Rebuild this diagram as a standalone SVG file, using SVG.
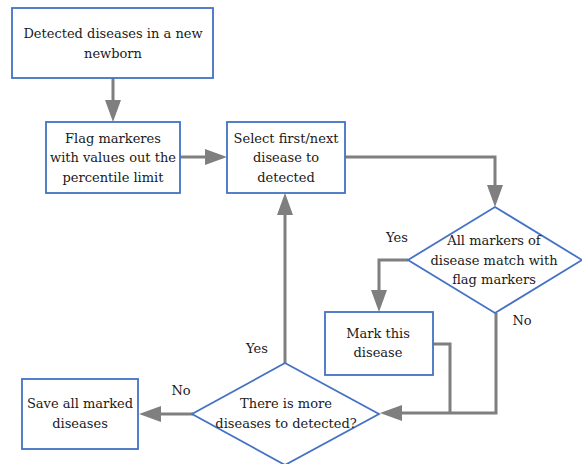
<svg xmlns="http://www.w3.org/2000/svg" width="582" height="464" viewBox="0 0 582 464">
<style>
.box{fill:#fff;stroke:#4472C4;stroke-width:1.8}
.c{fill:none;stroke:#7f7f7f;stroke-width:3}
</style>
<defs>
<marker id="ah" markerUnits="userSpaceOnUse" markerWidth="30" markerHeight="20" refX="0" refY="8" orient="auto" overflow="visible">
<path d="M0,0 L22,8 L0,16 z" fill="#7f7f7f"/>
</marker>
</defs>
<rect width="582" height="464" fill="#fff"/>
<g font-family="DejaVu Serif, serif" font-size="13" fill="#1a1a1a" text-anchor="middle">
<g id="connectors">
<path class="c" d="M113,78 V100" marker-end="url(#ah)"/>
<path class="c" d="M180,157 H205" marker-end="url(#ah)"/>
<path class="c" d="M345,157 H495 V185" marker-end="url(#ah)"/>
<path class="c" d="M408,260 H379 V290" marker-end="url(#ah)"/>
<path class="c" d="M433,344 H450 V413"/>
<path class="c" d="M496,313 V413 H402" marker-end="url(#ah)"/>
<path class="c" d="M285,363 V215" marker-end="url(#ah)"/>
<path class="c" d="M193,414 H161" marker-end="url(#ah)"/>
<text x="397" y="242">Yes</text>
<text x="522" y="325">No</text>
<text x="257" y="353">Yes</text>
<text x="181" y="395">No</text>
</g>
<g id="n1">
<rect class="box" x="12" y="8" width="201" height="70"/>
<text x="113" y="38">Detected diseases in a new</text>
<text x="113" y="58">newborn</text>
</g>
<g id="n2">
<rect class="box" x="46" y="122" width="134" height="71"/>
<text x="113" y="143">Flag markeres</text>
<text x="113" y="162">with values out the</text>
<text x="113" y="182">percentile limit</text>
</g>
<g id="n3">
<rect class="box" x="227" y="122" width="118" height="71"/>
<text x="286" y="143">Select first/next</text>
<text x="286" y="162">disease to</text>
<text x="286" y="182">detected</text>
</g>
<g id="n4">
<polygon class="box" points="495,207 582,260 495,313 408,260"/>
<text x="494" y="245">All markers of</text>
<text x="494" y="265">disease match with</text>
<text x="494" y="284">flag markers</text>
</g>
<g id="n5">
<rect class="box" x="325" y="312" width="108" height="63"/>
<text x="378" y="338">Mark this</text>
<text x="378" y="357">disease</text>
</g>
<g id="n6">
<polygon class="box" points="285,363 379,414 285,465 192,414"/>
<text x="286" y="408">There is more</text>
<text x="286" y="428">diseases to detected?</text>
</g>
<g id="n7">
<rect class="box" x="22" y="379" width="116" height="70"/>
<text x="80" y="408">Save all marked</text>
<text x="80" y="428">diseases</text>
</g>
</g>
</svg>
